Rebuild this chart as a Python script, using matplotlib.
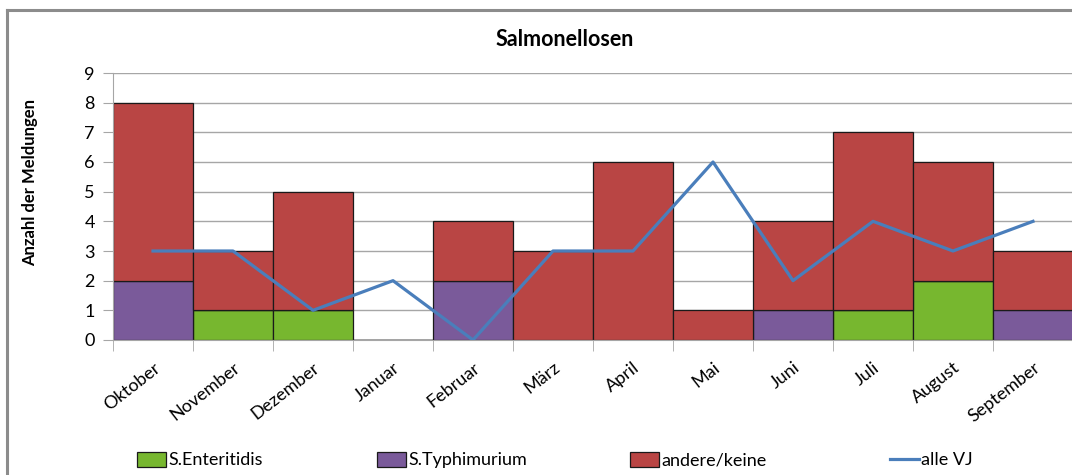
import matplotlib.pyplot as plt
import numpy as np
from matplotlib.lines import Line2D

plt.rcParams['font.family'] = ['Lato', 'DejaVu Sans']

months = ["Oktober", "November", "Dezember", "Januar", "Februar", "März",
          "April", "Mai", "Juni", "Juli", "August", "September"]
enteritidis = [0, 1, 1, 0, 0, 0, 0, 0, 0, 1, 2, 0]
typhimurium = [2, 0, 0, 0, 2, 0, 0, 0, 1, 0, 0, 1]
andere = [6, 2, 4, 0, 2, 3, 6, 1, 3, 6, 4, 2]
alle_vj = [3, 3, 1, 2, 0, 3, 3, 6, 2, 4, 3, 4]

c_ent = "#77B72F"
c_typ = "#7A5A9A"
c_and = "#B94544"
c_line = "#4A7EBB"

W, H = 1072, 475
fig = plt.figure(figsize=(W / 100, H / 100), dpi=100)
ax = fig.add_axes([113 / W, 1 - 340 / H, 960 / W, 267 / H])

x = np.arange(len(months))
ent = np.array(enteritidis)
typ = np.array(typhimurium)
bar_kw = dict(width=1.0, edgecolor="#1a1a1a", linewidth=0.9, zorder=2)
b1 = ax.bar(x, ent, color=c_ent, **bar_kw)
b2 = ax.bar(x, typ, bottom=ent, color=c_typ, **bar_kw)
b3 = ax.bar(x, andere, bottom=ent + typ, color=c_and, **bar_kw)
l1, = ax.plot(x, alle_vj, color=c_line, linewidth=2.3, zorder=3)

ax.set_xlim(-0.5, len(months) - 0.5)
ax.set_ylim(0, 9)
ax.set_yticks(range(10))
ax.yaxis.grid(True, color="#a6a6a6", linewidth=1.0, zorder=0)
ax.set_axisbelow(True)
for s in ["top", "right"]:
    ax.spines[s].set_visible(False)
ax.spines["left"].set_color("#a6a6a6")
ax.spines["bottom"].set_color("#a6a6a6")
ax.tick_params(axis="y", length=7, color="#a6a6a6", labelsize=13, pad=6)

ax.set_xticks(x)
ax.set_xticklabels(months, rotation=38, ha="right", rotation_mode="anchor", fontsize=13)
ax.tick_params(axis="x", length=0, pad=14)
ax.set_xticks(np.arange(-0.5, len(months), 1.0), minor=True)
ax.tick_params(axis="x", which="minor", length=8, color="#a6a6a6")

fig.text(30 / W, 1 - 183 / H, "Anzahl der Meldungen", rotation=90, ha="center",
         va="center", fontsize=12, fontweight="bold")
fig.text(565 / W, 1 - 40 / H, "Salmonellosen", ha="center", va="center",
         fontsize=15.5, fontweight="bold")

# legend entries placed one by one like the original layout
entries = [(b1, "S.Enteritidis", 140), (b2, "S.Typhimurium", 380),
           (b3, "andere/keine", 633), (l1, "alle VJ", 893)]
for h, lab, px in entries:
    fig.legend([h], [lab], loc="center left",
               bbox_to_anchor=(px / W - 0.011, 1 - 460 / H), frameon=False,
               fontsize=13, handlelength=1.6, handleheight=0.9,
               handletextpad=0.1, borderpad=0.0)

# outer chart border
fig.add_artist(Line2D([7 / W, 1.0], [1 - 10 / H, 1 - 10 / H],
                      color="#8c8c8c", linewidth=2.2, transform=fig.transFigure))
fig.add_artist(Line2D([7 / W, 7 / W], [0, 1 - 10 / H],
                      color="#8c8c8c", linewidth=2.2, transform=fig.transFigure))

fig.savefig("out.png", dpi=100)
